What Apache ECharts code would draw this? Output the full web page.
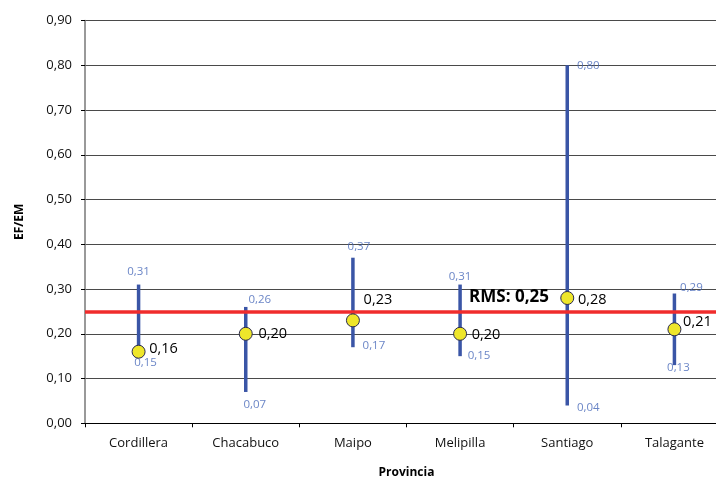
<!DOCTYPE html>
<html>
<head>
<meta charset="utf-8">
<script src="https://cdn.jsdelivr.net/npm/echarts@6/dist/echarts.min.js"></script>
<style>html,body{margin:0;padding:0;background:#fff;overflow:hidden}#c{width:716px;height:479px}</style>
</head>
<body>
<div id="c"></div>
<script>
const categories = ['Cordillera', 'Chacabuco', 'Maipo', 'Melipilla', 'Santiago', 'Talagante'];
const maxValues = [0.31, 0.26, 0.37, 0.31, 0.80, 0.29];
const minValues = [0.15, 0.07, 0.17, 0.15, 0.04, 0.13];
const meanValues = [0.16, 0.20, 0.23, 0.20, 0.28, 0.21];
const rmsValue = 0.25;
const rmsLabel = 'RMS: ';
const yAxisTitle = 'EF/EM';
const xAxisTitle = 'Provincia';

// label placement (style only)
const maxOffsets = [[0, -13], [14, -7], [6, -11], [0, -8], [21, 0], [17, -6]];
const minOffsets = [[7, 7], [9, 13], [21, -1], [19, 0], [21, 2], [4, 3]];
const meanOffsets = [[25, -3], [27, 0], [25, -20], [26, 1], [25, 2], [23, -7]];

const fmt = v => Number(v).toFixed(2).replace('.', ',');
const FONT = 'Open Sans';

const chart = echarts.init(document.getElementById('c'), null, {renderer: 'canvas', width: 716, height: 479});
chart.setOption({
  animation: false,
  backgroundColor: '#fff',
  grid: {left: 85, top: 20.5, width: 643, height: 402.8, containLabel: false, outerBoundsMode: 'none'},
  xAxis: {
    type: 'category',
    data: categories,
    name: xAxisTitle,
    nameLocation: 'middle',
    nameGap: 43,
    nameTextStyle: {fontFamily: FONT, fontWeight: 'bold', fontSize: 12, color: '#000'},
    axisLine: {lineStyle: {color: '#000', width: 1}},
    axisTick: {show: true, length: 4, lineStyle: {color: '#000'}},
    axisLabel: {fontFamily: FONT, fontSize: 13, color: '#111', margin: 13},
    splitLine: {show: false}
  },
  yAxis: {
    type: 'value',
    min: 0, max: 0.9, interval: 0.1,
    name: yAxisTitle,
    nameLocation: 'middle',
    nameGap: 59,
    nameRotate: 90,
    nameTextStyle: {fontFamily: FONT, fontWeight: 'bold', fontSize: 12, color: '#000'},
    axisLine: {show: true, lineStyle: {color: '#777', width: 1.5}},
    axisTick: {show: true, length: 4, lineStyle: {color: '#000'}},
    axisLabel: {fontFamily: FONT, fontSize: 13, color: '#111', margin: 13, formatter: fmt},
    splitLine: {show: true, lineStyle: {color: '#4a4a4a', width: 1}}
  },
  series: [
    {
      type: 'line',
      z: 2,
      silent: true,
      data: [],
      markLine: {
        silent: true,
        symbol: 'none',
        label: {show: false},
        lineStyle: {color: '#F02C2C', width: 3.5, type: 'solid'},
        data: [{yAxis: rmsValue}]
      },
      markPoint: {
        silent: true,
        symbol: 'circle',
        symbolSize: 0,
        label: {
          show: true, position: 'right', distance: 0, offset: [9, -14],
          fontFamily: FONT, fontWeight: 'bold', fontSize: 17, color: '#000',
          formatter: () => rmsLabel + fmt(rmsValue)
        },
        data: [{coord: [3, rmsValue]}]
      }
    },
    {
      type: 'custom',
      z: 3,
      silent: true,
      clip: false,
      renderItem: function (params, api) {
        const i = api.value(0);
        const lo = api.coord([i, api.value(1)]);
        const hi = api.coord([i, api.value(2)]);
        return {type: 'line', shape: {x1: lo[0], y1: lo[1], x2: hi[0], y2: hi[1]},
                style: {stroke: '#3A55A6', lineWidth: 3.5}};
      },
      encode: {x: 0, y: [1, 2]},
      data: categories.map((c, i) => [i, minValues[i], maxValues[i]])
    },
    {
      type: 'scatter',
      z: 4,
      silent: true,
      symbolSize: 0,
      data: maxValues.map((v, i) => ({value: [i, v], label: {offset: maxOffsets[i]}})),
      label: {show: true, position: 'inside', fontFamily: FONT, fontSize: 11.5, color: '#4566B8',
              formatter: p => fmt(p.value[1])}
    },
    {
      type: 'scatter',
      z: 4,
      silent: true,
      symbolSize: 0,
      data: minValues.map((v, i) => ({value: [i, v], label: {offset: minOffsets[i]}})),
      label: {show: true, position: 'inside', fontFamily: FONT, fontSize: 11.5, color: '#4566B8',
              formatter: p => fmt(p.value[1])}
    },
    {
      type: 'scatter',
      z: 5,
      silent: true,
      symbol: 'circle',
      symbolSize: 13,
      itemStyle: {color: '#EEE62A', borderColor: '#2a2a50', borderWidth: 1, opacity: 1},
      data: meanValues.map((v, i) => ({value: [i, v], label: {offset: meanOffsets[i]}})),
      label: {show: true, position: 'inside', fontFamily: FONT, fontSize: 14.5, color: '#000',
              formatter: p => fmt(p.value[1])}
    }
  ]
});
</script>
</body>
</html>
